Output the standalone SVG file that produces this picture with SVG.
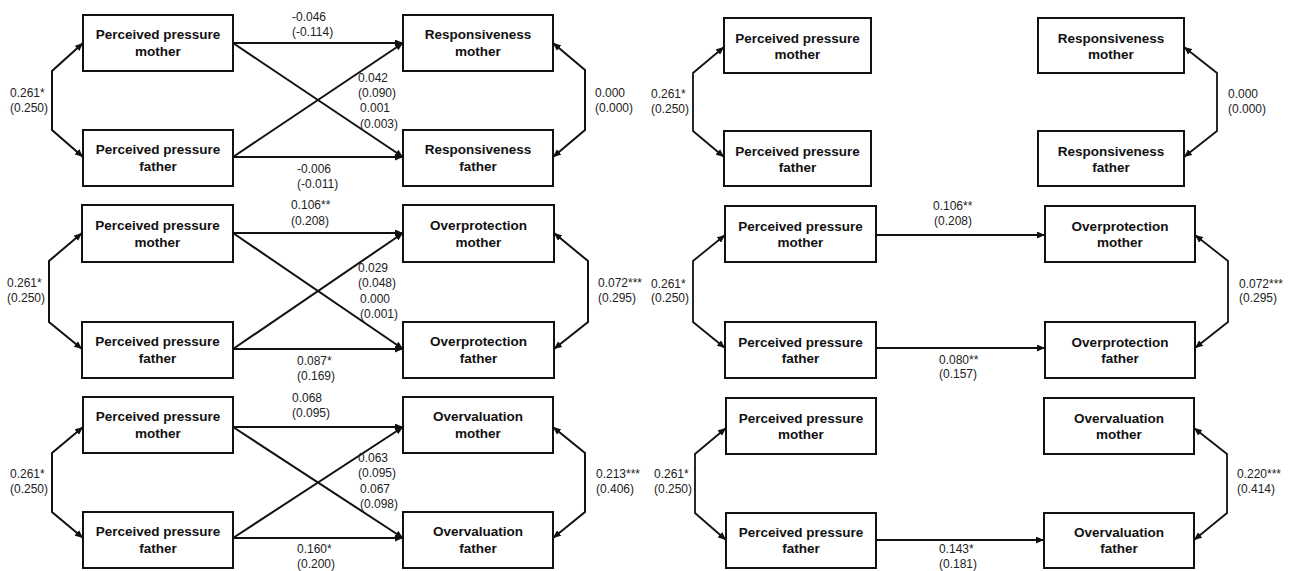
<svg xmlns="http://www.w3.org/2000/svg" width="1289" height="571" viewBox="0 0 1289 571">
<defs>
<marker id="ah" markerUnits="userSpaceOnUse" markerWidth="9" markerHeight="7" refX="8" refY="3.5" orient="auto">
<path d="M0,0 L8,3.5 L0,7 z" fill="#111"/>
</marker>
<style>
.box{fill:#fff;stroke:#111;stroke-width:2}
.bt{font-family:"Liberation Sans",Arial,sans-serif;font-weight:bold;font-size:13.5px;fill:#111;text-anchor:middle}
.lb{font-family:"Liberation Sans",Arial,sans-serif;font-size:12px;fill:#222}
.c{fill:none;stroke:#111;stroke-width:2;marker-end:url(#ah)}
.c2{fill:none;stroke:#111;stroke-width:1.8;marker-end:url(#ah)}
</style>
</defs>
<rect width="1289" height="571" fill="#fff"/>

<g id="connectors">
<!-- Left top -->
<path class="c" d="M52,100 L52,71 L83,43"/>
<path class="c" d="M52,100 L52,130 L83,157"/>
<path class="c" d="M233,43 L403,43"/>
<path class="c" d="M233,157 L403,157"/>
<path class="c" d="M233,43 L403,157"/>
<path class="c" d="M233,157 L403,43"/>
<path class="c" d="M585,100 L585,70 L553,43"/>
<path class="c" d="M585,100 L585,130 L553,157"/>
<!-- Left middle -->
<path class="c" d="M49,291 L49,261 L82,233"/>
<path class="c" d="M49,291 L49,322 L82,349"/>
<path class="c" d="M233,233 L403,233"/>
<path class="c" d="M233,349 L403,349"/>
<path class="c" d="M233,233 L403,349"/>
<path class="c" d="M233,349 L403,233"/>
<path class="c" d="M588,291 L588,261 L554,233"/>
<path class="c" d="M588,291 L588,322 L554,349"/>
<!-- Left bottom -->
<path class="c" d="M52,482 L52,453 L83,427"/>
<path class="c" d="M52,482 L52,512 L83,538"/>
<path class="c" d="M233,427 L403,427"/>
<path class="c" d="M233,538 L403,538"/>
<path class="c" d="M233,427 L403,538"/>
<path class="c" d="M233,538 L403,427"/>
<path class="c" d="M585,482 L585,453 L553,427"/>
<path class="c" d="M585,482 L585,512 L553,538"/>
<!-- Right top -->
<path class="c2" d="M693,102 L693,73 L724,47"/>
<path class="c2" d="M693,102 L693,131 L724,157"/>
<path class="c2" d="M1217,102 L1217,73 L1184,47"/>
<path class="c2" d="M1217,102 L1217,131 L1184,157"/>
<!-- Right middle -->
<path class="c2" d="M693,291 L693,261 L725,235"/>
<path class="c2" d="M693,291 L693,322 L725,348"/>
<path class="c2" d="M876,235 L1045,235"/>
<path class="c2" d="M876,348 L1045,348"/>
<path class="c2" d="M1228,291 L1228,261 L1195,235"/>
<path class="c2" d="M1228,291 L1228,322 L1195,348"/>
<!-- Right bottom -->
<path class="c2" d="M695,483 L695,454 L726,428"/>
<path class="c2" d="M695,483 L695,513 L726,540"/>
<path class="c2" d="M876,540 L1044,540"/>
<path class="c2" d="M1227,483 L1227,454 L1194,428"/>
<path class="c2" d="M1227,483 L1227,513 L1194,540"/>
</g>

<g id="labels">
<!-- Left top -->
<text class="lb" x="10" y="97">0.261*</text><text class="lb" x="10" y="112">(0.250)</text>
<text class="lb" x="292" y="21">-0.046</text><text class="lb" x="292" y="36">(-0.114)</text>
<text class="lb" x="358" y="82">0.042</text><text class="lb" x="358" y="97">(0.090)</text>
<text class="lb" x="360" y="112">0.001</text><text class="lb" x="360" y="128">(0.003)</text>
<text class="lb" x="297" y="173">-0.006</text><text class="lb" x="297" y="188">(-0.011)</text>
<text class="lb" x="595" y="97">0.000</text><text class="lb" x="595" y="112">(0.000)</text>
<!-- Left middle -->
<text class="lb" x="7" y="287">0.261*</text><text class="lb" x="7" y="302">(0.250)</text>
<text class="lb" x="291" y="209">0.106**</text><text class="lb" x="291" y="225">(0.208)</text>
<text class="lb" x="358" y="272">0.029</text><text class="lb" x="358" y="287">(0.048)</text>
<text class="lb" x="360" y="303">0.000</text><text class="lb" x="360" y="318">(0.001)</text>
<text class="lb" x="297" y="365">0.087*</text><text class="lb" x="297" y="380">(0.169)</text>
<text class="lb" x="598" y="287">0.072***</text><text class="lb" x="598" y="302">(0.295)</text>
<!-- Left bottom -->
<text class="lb" x="10" y="478">0.261*</text><text class="lb" x="10" y="493">(0.250)</text>
<text class="lb" x="292" y="402">0.068</text><text class="lb" x="292" y="417">(0.095)</text>
<text class="lb" x="358" y="462">0.063</text><text class="lb" x="358" y="477">(0.095)</text>
<text class="lb" x="360" y="493">0.067</text><text class="lb" x="360" y="508">(0.098)</text>
<text class="lb" x="297" y="553">0.160*</text><text class="lb" x="297" y="568">(0.200)</text>
<text class="lb" x="596" y="478">0.213***</text><text class="lb" x="596" y="493">(0.406)</text>
<!-- Right top -->
<text class="lb" x="651" y="98">0.261*</text><text class="lb" x="651" y="113">(0.250)</text>
<text class="lb" x="1228" y="98">0.000</text><text class="lb" x="1228" y="113">(0.000)</text>
<!-- Right middle -->
<text class="lb" x="651" y="288">0.261*</text><text class="lb" x="651" y="302">(0.250)</text>
<text class="lb" x="933" y="210">0.106**</text><text class="lb" x="934" y="225">(0.208)</text>
<text class="lb" x="939" y="364">0.080**</text><text class="lb" x="939" y="378">(0.157)</text>
<text class="lb" x="1239" y="288">0.072***</text><text class="lb" x="1239" y="302">(0.295)</text>
<!-- Right bottom -->
<text class="lb" x="654" y="478">0.261*</text><text class="lb" x="654" y="493">(0.250)</text>
<text class="lb" x="939" y="553">0.143*</text><text class="lb" x="939" y="568">(0.181)</text>
<text class="lb" x="1237" y="478">0.220***</text><text class="lb" x="1237" y="493">(0.414)</text>
</g>

<!-- Left nodes -->
<g id="A1"><rect class="box" x="83" y="15" width="150" height="56"/><text class="bt" x="158" y="39">Perceived pressure</text><text class="bt" x="158" y="56">mother</text></g>
<g id="A2"><rect class="box" x="83" y="130" width="150" height="56"/><text class="bt" x="158" y="154">Perceived pressure</text><text class="bt" x="158" y="171">father</text></g>
<g id="A3"><rect class="box" x="403" y="15" width="150" height="56"/><text class="bt" x="478" y="39">Responsiveness</text><text class="bt" x="478" y="56">mother</text></g>
<g id="A4"><rect class="box" x="403" y="130" width="150" height="56"/><text class="bt" x="478" y="154">Responsiveness</text><text class="bt" x="478" y="171">father</text></g>

<g id="B1"><rect class="box" x="82" y="205" width="151" height="57"/><text class="bt" x="157.5" y="229.5">Perceived pressure</text><text class="bt" x="157.5" y="246.5">mother</text></g>
<g id="B2"><rect class="box" x="82" y="322" width="151" height="56"/><text class="bt" x="157.5" y="346">Perceived pressure</text><text class="bt" x="157.5" y="363">father</text></g>
<g id="B3"><rect class="box" x="403" y="205" width="151" height="57"/><text class="bt" x="478.5" y="229.5">Overprotection</text><text class="bt" x="478.5" y="246.5">mother</text></g>
<g id="B4"><rect class="box" x="403" y="322" width="151" height="56"/><text class="bt" x="478.5" y="346">Overprotection</text><text class="bt" x="478.5" y="363">father</text></g>

<g id="C1"><rect class="box" x="83" y="397" width="150" height="56"/><text class="bt" x="158" y="421">Perceived pressure</text><text class="bt" x="158" y="438">mother</text></g>
<g id="C2"><rect class="box" x="83" y="512" width="150" height="56"/><text class="bt" x="158" y="536">Perceived pressure</text><text class="bt" x="158" y="553">father</text></g>
<g id="C3"><rect class="box" x="403" y="397" width="150" height="56"/><text class="bt" x="478" y="421">Overvaluation</text><text class="bt" x="478" y="438">mother</text></g>
<g id="C4"><rect class="box" x="403" y="512" width="150" height="56"/><text class="bt" x="478" y="536">Overvaluation</text><text class="bt" x="478" y="553">father</text></g>

<!-- Right nodes -->
<g id="D1"><rect class="box" x="724" y="18" width="147" height="55"/><text class="bt" x="797.5" y="42.5">Perceived pressure</text><text class="bt" x="797.5" y="58.5">mother</text></g>
<g id="D2"><rect class="box" x="724" y="131" width="147" height="55"/><text class="bt" x="797.5" y="155.5">Perceived pressure</text><text class="bt" x="797.5" y="171.5">father</text></g>
<g id="D3"><rect class="box" x="1038" y="18" width="146" height="55"/><text class="bt" x="1111" y="42.5">Responsiveness</text><text class="bt" x="1111" y="58.5">mother</text></g>
<g id="D4"><rect class="box" x="1038" y="131" width="146" height="55"/><text class="bt" x="1111" y="155.5">Responsiveness</text><text class="bt" x="1111" y="171.5">father</text></g>

<g id="E1"><rect class="box" x="725" y="206" width="151" height="56"/><text class="bt" x="800.5" y="230.5">Perceived pressure</text><text class="bt" x="800.5" y="246.5">mother</text></g>
<g id="E2"><rect class="box" x="725" y="322" width="151" height="56"/><text class="bt" x="800.5" y="346.5">Perceived pressure</text><text class="bt" x="800.5" y="362.5">father</text></g>
<g id="E3"><rect class="box" x="1045" y="206" width="150" height="56"/><text class="bt" x="1120" y="230.5">Overprotection</text><text class="bt" x="1120" y="246.5">mother</text></g>
<g id="E4"><rect class="box" x="1045" y="322" width="150" height="56"/><text class="bt" x="1120" y="346.5">Overprotection</text><text class="bt" x="1120" y="362.5">father</text></g>

<g id="F1"><rect class="box" x="726" y="398" width="150" height="56"/><text class="bt" x="801" y="422.5">Perceived pressure</text><text class="bt" x="801" y="438.5">mother</text></g>
<g id="F2"><rect class="box" x="726" y="513" width="150" height="55"/><text class="bt" x="801" y="537">Perceived pressure</text><text class="bt" x="801" y="553">father</text></g>
<g id="F3"><rect class="box" x="1044" y="398" width="150" height="56"/><text class="bt" x="1119" y="422.5">Overvaluation</text><text class="bt" x="1119" y="438.5">mother</text></g>
<g id="F4"><rect class="box" x="1044" y="513" width="150" height="55"/><text class="bt" x="1119" y="537">Overvaluation</text><text class="bt" x="1119" y="553">father</text></g>
</svg>
